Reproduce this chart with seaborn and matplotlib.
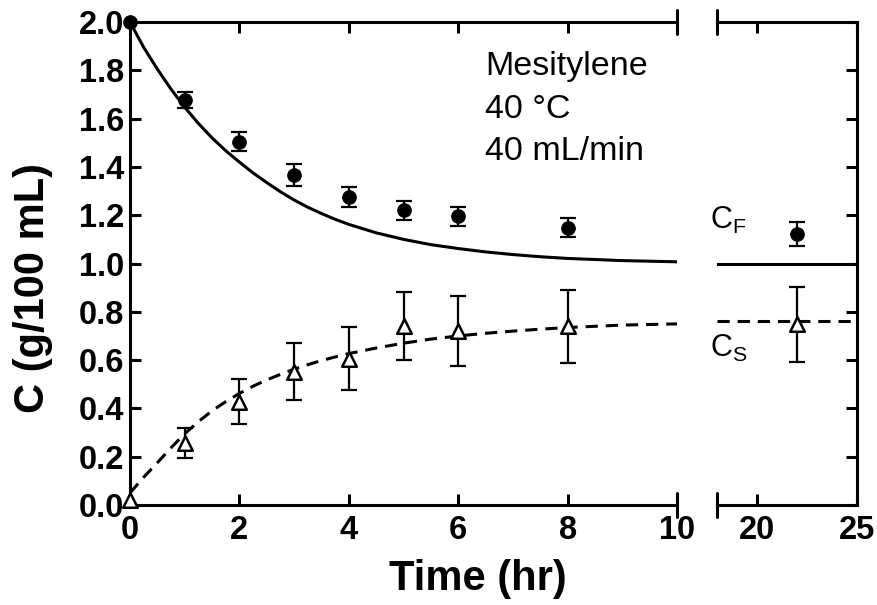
import numpy as np
import seaborn as sns
import matplotlib.pyplot as plt

# measured points (early time, 0-8 hr) and the long-time point at 22 hr
t_data = [0, 1, 2, 3, 4, 5, 6, 8]
cf_data = [2.0, 1.677, 1.504, 1.366, 1.275, 1.22, 1.195, 1.148]
cf_err = [0, 0.035, 0.04, 0.045, 0.04, 0.04, 0.04, 0.04]
cs_data = [0.02, 0.257, 0.428, 0.552, 0.605, 0.74, 0.72, 0.74]
cs_err = [0, 0.063, 0.093, 0.117, 0.13, 0.14, 0.145, 0.15]

t_late = [22]
cf_late = [1.122]
cf_late_err = [0.05]
cs_late = [0.748]
cs_late_err = [0.155]

# model curves
t_model = [0, 0.25, 0.5, 0.75, 1, 1.25, 1.5, 1.75, 2, 2.25, 2.5, 2.75, 3,
           3.25, 3.5, 3.75, 4, 4.5, 5, 5.5, 6, 6.5, 7, 7.5, 8, 9, 10]
cf_model = [2.0, 1.895, 1.805, 1.722, 1.647, 1.58, 1.52, 1.467, 1.42, 1.375,
            1.335, 1.297, 1.263, 1.233, 1.207, 1.183, 1.162, 1.127, 1.10,
            1.078, 1.062, 1.048, 1.037, 1.028, 1.021, 1.012, 1.007]
cs_model = [0.05, 0.115, 0.175, 0.237, 0.295, 0.345, 0.39, 0.428, 0.462, 0.492,
            0.518, 0.541, 0.562, 0.581, 0.598, 0.613, 0.627, 0.65, 0.67,
            0.687, 0.70, 0.711, 0.72, 0.728, 0.735, 0.745, 0.75]
t_model_late = [18, 25]
cf_model_late = [1.0, 1.0]
cs_model_late = [0.76, 0.76]

sns.set_theme(style="ticks")
plt.rcParams['font.family'] = ['Liberation Sans', 'DejaVu Sans']
plt.rcParams['mathtext.fontset'] = 'custom'
plt.rcParams['mathtext.rm'] = 'Liberation Sans'
for k in ('text.color', 'axes.labelcolor', 'axes.edgecolor',
          'xtick.color', 'ytick.color'):
    plt.rcParams[k] = 'black'

fig = plt.figure(figsize=(8.77, 6.05), dpi=100)
W, H = 877, 605
ax1 = fig.add_axes([130 / W, 100 / H, 547 / W, 483 / H])
ax2 = fig.add_axes([717 / W, 100 / H, 140 / W, 483 / H])

lw = 2.2
dash = (0, (4, 2.6))


def draw(ax, t, cf, cfe, cs, cse, tm, cfm, csm):
    sns.lineplot(x=tm, y=cfm, ax=ax, color='black', lw=lw)
    sns.lineplot(x=tm, y=csm, ax=ax, color='black', lw=lw, linestyle=dash)
    t = np.array(t)
    cfe = np.array(cfe)
    cse = np.array(cse)
    m = cfe > 0
    ax.errorbar(t[m], np.array(cf)[m], yerr=cfe[m], fmt='none', ecolor='black',
                elinewidth=1.6, capsize=5.5, capthick=1.6, zorder=3)
    m = cse > 0
    ax.errorbar(t[m], np.array(cs)[m], yerr=cse[m], fmt='none', ecolor='black',
                elinewidth=1.6, capsize=5.5, capthick=1.6, zorder=3)
    sns.scatterplot(x=t, y=cf, ax=ax, marker='o', color='black', s=95,
                    edgecolor='black', zorder=5, clip_on=False)
    sns.scatterplot(x=t, y=cs, ax=ax, marker='^', color='white', s=110,
                    edgecolor='black', linewidth=1.8, zorder=5, clip_on=False)


draw(ax1, t_data, cf_data, cf_err, cs_data, cs_err, t_model, cf_model, cs_model)
draw(ax2, t_late, cf_late, cf_late_err, cs_late, cs_late_err,
     t_model_late, cf_model_late, cs_model_late)

for ax in (ax1, ax2):
    ax.set_ylim(0, 2.0)
    ax.set_yticks(np.arange(0, 2.01, 0.2))
    for s in ax.spines.values():
        s.set_linewidth(2.2)
        s.set_color('black')
    ax.tick_params(direction='in', length=8, width=2.2, labelsize=23.5, pad=4,
                   color='black', labelcolor='black')
    ax.set_xlabel('')
    ax.set_ylabel('')

ax1.set_xlim(0, 10)
ax1.set_xticks([0, 2, 4, 6, 8, 10])
ax1.spines['right'].set_visible(False)
ax1.tick_params(top=True, right=False)
ax1.set_yticklabels([f'{v:.1f}' for v in np.arange(0, 2.01, 0.2)], fontweight='bold')
ax1.set_xticklabels(['0', '2', '4', '6', '8', '10'], fontweight='bold')
ax1.tick_params(axis='x', pad=7)

ax2.set_xlim(18, 25)
ax2.set_xticks([20, 25])
ax2.set_xticklabels(['20', '25'], fontweight='bold')
ax2.spines['left'].set_visible(False)
ax2.tick_params(axis='y', left=False, right=True, labelleft=False)
ax2.tick_params(axis='x', top=True, pad=7)

# break marks at the cut of the time axis
for ax, xa in ((ax1, 1.0), (ax2, 0.0)):
    for y0 in (0.0, 1.0):
        ax.plot([xa, xa], [y0 - 0.024, y0 + 0.024], color='black', lw=2.2,
                clip_on=False, transform=ax.transAxes)

ax1.set_ylabel('C (g/100 mL)', fontsize=30, fontweight='bold', color='black')
ax1.yaxis.set_label_coords(-0.14, 0.449)
ax1.set_xlabel('Time (hr)', fontsize=30, fontweight='bold', color='black')
ax1.xaxis.set_label_coords(0.636, -0.112)

for y, s in ((1.78, 'Mesitylene'), (1.602, '40 °C'), (1.427, '40 mL/min')):
    ax1.text(6.49, y, s, fontsize=24.5, va='baseline', ha='left', color='black')

ax2.text(17.65, 1.145, r'C$_\mathrm{F}$', fontsize=22, va='baseline', ha='left',
         color='black')
ax2.text(17.65, 0.613, r'C$_\mathrm{S}$', fontsize=22, va='baseline', ha='left',
         color='black')

plt.savefig('out.png', dpi=100)
